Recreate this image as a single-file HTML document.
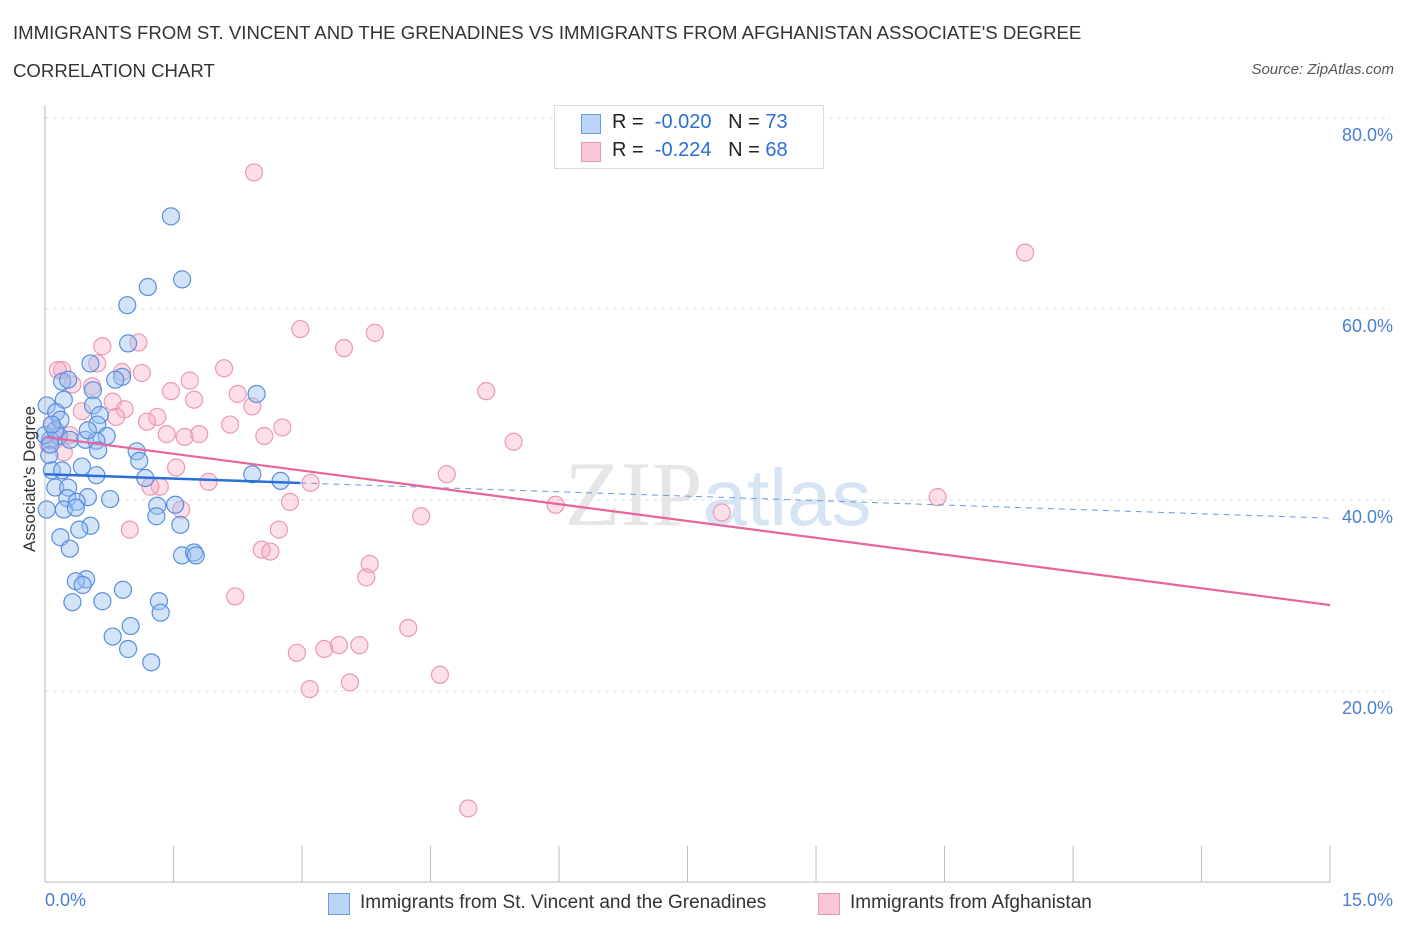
<!DOCTYPE html>
<html><head><meta charset="utf-8"><style>
body{margin:0;background:#fff;font-family:"Liberation Sans",sans-serif;}
#wrap{position:relative;width:1406px;height:930px;overflow:hidden;}
.t{position:absolute;white-space:nowrap;}
</style></head><body>
<div id="wrap">
<div class="t" style="left:13px;top:14px;font-size:18.6px;color:#333;line-height:38px">IMMIGRANTS FROM ST. VINCENT AND THE GRENADINES VS IMMIGRANTS FROM AFGHANISTAN ASSOCIATE'S DEGREE<br>CORRELATION CHART</div>
<div class="t" style="right:12px;top:61px;font-size:15px;color:#555;font-style:italic">Source: ZipAtlas.com</div>
<svg id="svg" width="1406" height="930" style="position:absolute;left:0;top:0"></svg>
</div>
<script>
const yTicks=[20,40,60,80];
const yTickLabels=["20.0%","40.0%","60.0%","80.0%"];
const xTicks=[0,1.5,3,4.5,6,7.5,9,10.5,12,13.5,15];
const blueX=[1.47,1.60,1.20,0.96,0.97,0.53,0.90,0.82,0.20,0.27,2.47,0.56,0.22,0.02,0.56,0.13,0.64,0.61,0.72,0.16,0.29,0.47,0.60,0.06,0.62,1.07,0.05,1.10,0.43,0.08,0.20,0.60,2.42,2.75,1.17,0.12,0.27,0.26,0.50,0.37,0.76,1.52,1.31,0.02,0.22,0.36,1.30,1.58,0.53,0.40,0.18,0.29,1.60,1.74,1.76,0.48,0.36,0.44,0.91,0.32,0.67,1.33,1.35,0.79,1.00,0.97,1.24,0.00,0.06,0.12,0.18,0.08,0.50];
const blueY=[69.7,63.1,62.3,60.4,56.4,54.3,52.9,52.6,52.4,52.6,51.1,51.5,50.5,49.9,49.9,49.2,48.9,47.9,46.7,46.7,46.3,46.3,46.2,46.3,45.2,45.1,44.7,44.1,43.5,43.1,43.1,42.6,42.7,42.0,42.3,41.3,41.3,40.2,40.3,39.8,40.1,39.5,39.4,39.0,39.0,39.2,38.3,37.4,37.3,36.9,36.1,34.9,34.2,34.5,34.2,31.7,31.5,31.1,30.6,29.3,29.4,29.4,28.2,25.7,26.8,24.4,23.0,46.8,45.8,47.3,48.4,47.9,47.3];
const pinkX=[2.44,11.44,2.98,3.85,3.49,1.09,0.67,0.20,0.61,2.09,0.90,1.13,1.69,0.32,0.55,1.47,5.15,2.25,1.74,0.79,0.43,2.42,0.93,1.31,0.83,2.16,1.19,2.77,0.08,0.14,1.42,1.63,1.80,2.56,5.47,0.12,0.29,0.04,0.22,1.53,4.69,1.91,3.10,1.34,1.23,2.86,10.42,5.96,1.59,7.90,4.39,0.99,2.73,2.53,2.63,3.79,3.75,2.22,4.24,3.67,3.43,3.26,2.94,4.61,3.56,3.09,4.94,0.15];
const pinkY=[74.3,65.9,57.9,57.5,55.9,56.5,56.1,53.6,54.3,53.8,53.4,53.3,52.5,52.1,51.9,51.4,51.4,51.1,50.5,50.3,49.3,49.8,49.5,48.7,48.7,47.9,48.2,47.6,47.9,47.1,46.9,46.6,46.9,46.7,46.1,46.3,46.8,45.8,45.0,43.4,42.7,41.9,41.8,41.4,41.4,39.8,40.3,39.5,39.0,38.7,38.3,36.9,36.9,34.8,34.6,33.3,31.9,29.9,26.6,24.8,24.8,24.4,24.0,21.7,20.9,20.2,7.7,53.6];
const blueTrend=[42.7,38.1];
const pinkTrend=[46.6,29.0];
const blueSolidEnd=2.98;

const svg=document.getElementById('svg');const NS='http://www.w3.org/2000/svg';
const X=v=>45+v*85.67, Y=v=>882-v*9.55;
function mk(tag,a,name){const e=document.createElementNS(NS,tag);for(const k in a)e.setAttribute(k,a[k]);


svg.appendChild(e);return e;}
yTicks.forEach((t,i)=>{mk('line',{x1:45,x2:1390,y1:Y(t),y2:Y(t),stroke:'#ddd','stroke-dasharray':'4,4'},'gridline');
const tx=mk('text',{x:1393,y:Y(t)+23,'text-anchor':'end','font-size':18,fill:'#4a7fd4','font-family':'Liberation Sans'},'y-tick-label');tx.textContent=yTickLabels[i];});
mk('line',{x1:45,x2:1330,y1:882,y2:882,stroke:'#bbb'},'x-axis');
mk('line',{x1:45,x2:45,y1:105,y2:882,stroke:'#bbb'},'y-axis');
xTicks.forEach(t=>mk('line',{x1:X(t),x2:X(t),y1:846,y2:882,stroke:'#bbb'},'x-tick'));
const wm=mk('text',{x:718,y:525,'text-anchor':'middle','font-size':92,fill:'#e6e6e6','font-family':'Liberation Serif'},'watermark');wm.innerHTML='ZIP<tspan fill="#d6e4f5" font-family="Liberation Sans" font-size="80">atlas</tspan>';
pinkX.forEach((x,i)=>mk('circle',{cx:X(x),cy:Y(pinkY[i]),r:8.5,fill:'rgba(246,170,196,0.38)',stroke:'#ec98b4','stroke-width':1.2},'pink-point'));
blueX.forEach((x,i)=>mk('circle',{cx:X(x),cy:Y(blueY[i]),r:8.5,fill:'rgba(150,190,240,0.42)',stroke:'#5b8ee0','stroke-width':1.2},'blue-point'));
const by=x=>blueTrend[0]+(blueTrend[1]-blueTrend[0])*x/15;
mk('line',{x1:X(0),y1:Y(by(0)),x2:X(blueSolidEnd),y2:Y(by(blueSolidEnd)),stroke:'#2a6fd8','stroke-width':2.5},'blue-trend-line');
mk('line',{x1:X(blueSolidEnd),y1:Y(by(blueSolidEnd)),x2:X(15),y2:Y(by(15)),stroke:'#6a9ae0','stroke-width':1,'stroke-dasharray':'6,5'},'blue-trend-dashed');
mk('line',{x1:X(0),y1:Y(pinkTrend[0]),x2:X(15),y2:Y(pinkTrend[1]),stroke:'#e8649a','stroke-width':2.2},'pink-trend-line');
</script>
<div class="t" style="left:45px;top:890px;font-size:18px;color:#4a7fd4">0.0%</div>
<div class="t" style="right:13px;top:890px;font-size:18px;color:#4a7fd4">15.0%</div>
<div class="t" style="left:-30px;top:482px;font-size:17px;color:#333;transform:rotate(-90deg);transform-origin:center;width:120px;text-align:center">Associate's Degree</div>
<div style="position:absolute;left:554px;top:105px;width:268px;height:62px;border:1px solid #ddd;background:#fff;font-size:20px;color:#222">
<div style="position:absolute;left:26px;top:8px;width:18px;height:18px;background:#bcd4f7;border:1px solid #6b9be2"></div>
<div class="t" style="left:57px;top:5px">R = &nbsp;<span style="color:#2a6fd8">-0.020</span> &nbsp;&nbsp;N = <span style="color:#2a6fd8">73</span></div>
<div style="position:absolute;left:26px;top:36px;width:18px;height:18px;background:#f8c6d6;border:1px solid #ec98b4"></div>
<div class="t" style="left:57px;top:33px">R = &nbsp;<span style="color:#2a6fd8">-0.224</span> &nbsp;&nbsp;N = <span style="color:#2a6fd8">68</span></div>
</div>
<div style="position:absolute;left:0;top:890px;width:1406px;font-size:19px;color:#333">
<div style="position:absolute;left:328px;top:3px;width:20px;height:20px;background:#bcd4f7;border:1px solid #6b9be2"></div>
<div class="t" style="left:360px;top:2px">Immigrants from St. Vincent and the Grenadines</div>
<div style="position:absolute;left:818px;top:3px;width:20px;height:20px;background:#f8c6d6;border:1px solid #ec98b4"></div>
<div class="t" style="left:850px;top:2px">Immigrants from Afghanistan</div>
</div>
</body></html>
